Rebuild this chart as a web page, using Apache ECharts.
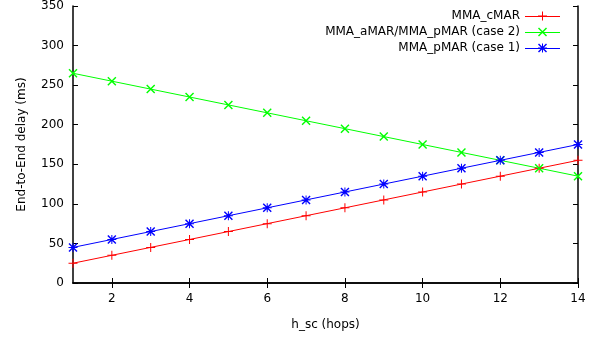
<!DOCTYPE html>
<html>
<head>
<meta charset="utf-8">
<script src="https://cdn.jsdelivr.net/npm/echarts@6/dist/echarts.min.js"></script>
<style>
  html, body { margin: 0; padding: 0; background: #fff; }
  #chart { width: 611px; height: 339px; }
</style>
</head>
<body>
<div id="chart"></div>
<script>
// data
const hops = [1, 2, 3, 4, 5, 6, 7, 8, 9, 10, 11, 12, 13, 14];
const cMAR = [25, 35, 45, 55, 65, 75, 85, 95, 105, 115, 125, 135, 145, 155];
const aMARcase2 = [265, 255, 245, 235, 225, 215, 205, 195, 185, 175, 165, 155, 145, 135];
const pMARcase1 = [45, 55, 65, 75, 85, 95, 105, 115, 125, 135, 145, 155, 165, 175];
const xTicks = [2, 4, 6, 8, 10, 12, 14];
const seriesNames = ["MMA_cMAR", "MMA_aMAR/MMA_pMAR (case 2)", "MMA_pMAR (case 1)"];

// gnuplot-like point shapes
const PLUS = "path://M4,0H5V9H4Z M0,4H9V5H0Z";
const CROSS = "path://M0,1L1,0L9,8L8,9Z M8,0L9,1L1,9L0,8Z";
const STAR = "path://M4,0H5V9H4Z M0,4H9V5H0Z M0,1L1,0L9,8L8,9Z M8,0L9,1L1,9L0,8Z";

// legend icons: short line with the point in the middle (35 x 9)
const legendIcon = (pts) => "path://M0,4.5H35V5.5H0Z " + pts;
const LEG_PLUS = legendIcon("M17,0H18V9H17Z M13,4H22V5H13Z");
const LEG_CROSS = legendIcon("M13,1L14,0L22,8L21,9Z M21,0L22,1L14,9L13,8Z");
const LEG_STAR = legendIcon("M17,0H18V9H17Z M13,4H22V5H13Z M13,1L14,0L22,8L21,9Z M21,0L22,1L14,9L13,8Z");

const toPairs = (ys) => hops.map((x, i) => [x, ys[i]]);

const chart = echarts.init(document.getElementById("chart"));
const font = "DejaVu Sans";
const tickStyle = { show: true, inside: true, length: 5, lineStyle: { color: "#000", width: 1 } };

chart.setOption({
  animation: false,
  textStyle: { fontFamily: font },
  grid: { left: 73, right: 33, top: 5, bottom: 56 },
  legend: {
    orient: "vertical",
    right: 46,
    top: 5,
    align: "right",
    itemWidth: 35,
    itemHeight: 9,
    itemGap: 4,
    textStyle: { fontFamily: font, fontSize: 12, color: "#000" },
    data: [
      { name: seriesNames[0], icon: LEG_PLUS },
      { name: seriesNames[1], icon: LEG_CROSS },
      { name: seriesNames[2], icon: LEG_STAR },
    ],
  },
  xAxis: [
    {
      type: "value",
      min: 1,
      max: 14,
      interval: 1,
      name: "h_sc (hops)",
      nameLocation: "middle",
      nameGap: 36,
      nameTextStyle: { fontFamily: font, fontSize: 12, color: "#000" },
      axisLine: { lineStyle: { color: "#000", width: 1.5 } },
      axisTick: Object.assign({ customValues: xTicks }, tickStyle),
      axisLabel: { customValues: xTicks, color: "#000", fontSize: 12, fontFamily: font, margin: 10 },
      splitLine: { show: false },
    },
    {
      type: "value",
      position: "top",
      min: 1,
      max: 14,
      interval: 1,
      axisLine: { show: true, lineStyle: { color: "#000", width: 1.5 } },
      axisTick: Object.assign({ customValues: xTicks }, tickStyle),
      axisLabel: { show: false },
      splitLine: { show: false },
    },
  ],
  yAxis: [
    {
      type: "value",
      min: 0,
      max: 350,
      interval: 50,
      name: "End-to-End delay (ms)",
      nameLocation: "middle",
      nameGap: 45,
      nameTextStyle: { fontFamily: font, fontSize: 12, color: "#000" },
      axisLine: { show: true, lineStyle: { color: "#000", width: 1.5 } },
      axisTick: tickStyle,
      axisLabel: { color: "#000", fontSize: 12, fontFamily: font, margin: 9 },
      splitLine: { show: false },
    },
    {
      type: "value",
      position: "right",
      min: 0,
      max: 350,
      interval: 50,
      axisLine: { show: true, lineStyle: { color: "#000", width: 1.5 } },
      axisTick: tickStyle,
      axisLabel: { show: false },
      splitLine: { show: false },
    },
  ],
  series: [
    {
      name: seriesNames[0],
      type: "line",
      data: toPairs(cMAR),
      symbol: PLUS,
      symbolSize: 9,
      showAllSymbol: true,
      lineStyle: { color: "#ff0000", width: 1 },
      itemStyle: { color: "#ff0000" },
    },
    {
      name: seriesNames[1],
      type: "line",
      data: toPairs(aMARcase2),
      symbol: CROSS,
      symbolSize: 9,
      showAllSymbol: true,
      lineStyle: { color: "#00ff00", width: 1 },
      itemStyle: { color: "#00ff00" },
    },
    {
      name: seriesNames[2],
      type: "line",
      data: toPairs(pMARcase1),
      symbol: STAR,
      symbolSize: 9,
      showAllSymbol: true,
      lineStyle: { color: "#0000ff", width: 1 },
      itemStyle: { color: "#0000ff" },
    },
  ],
});
</script>
</body>
</html>
